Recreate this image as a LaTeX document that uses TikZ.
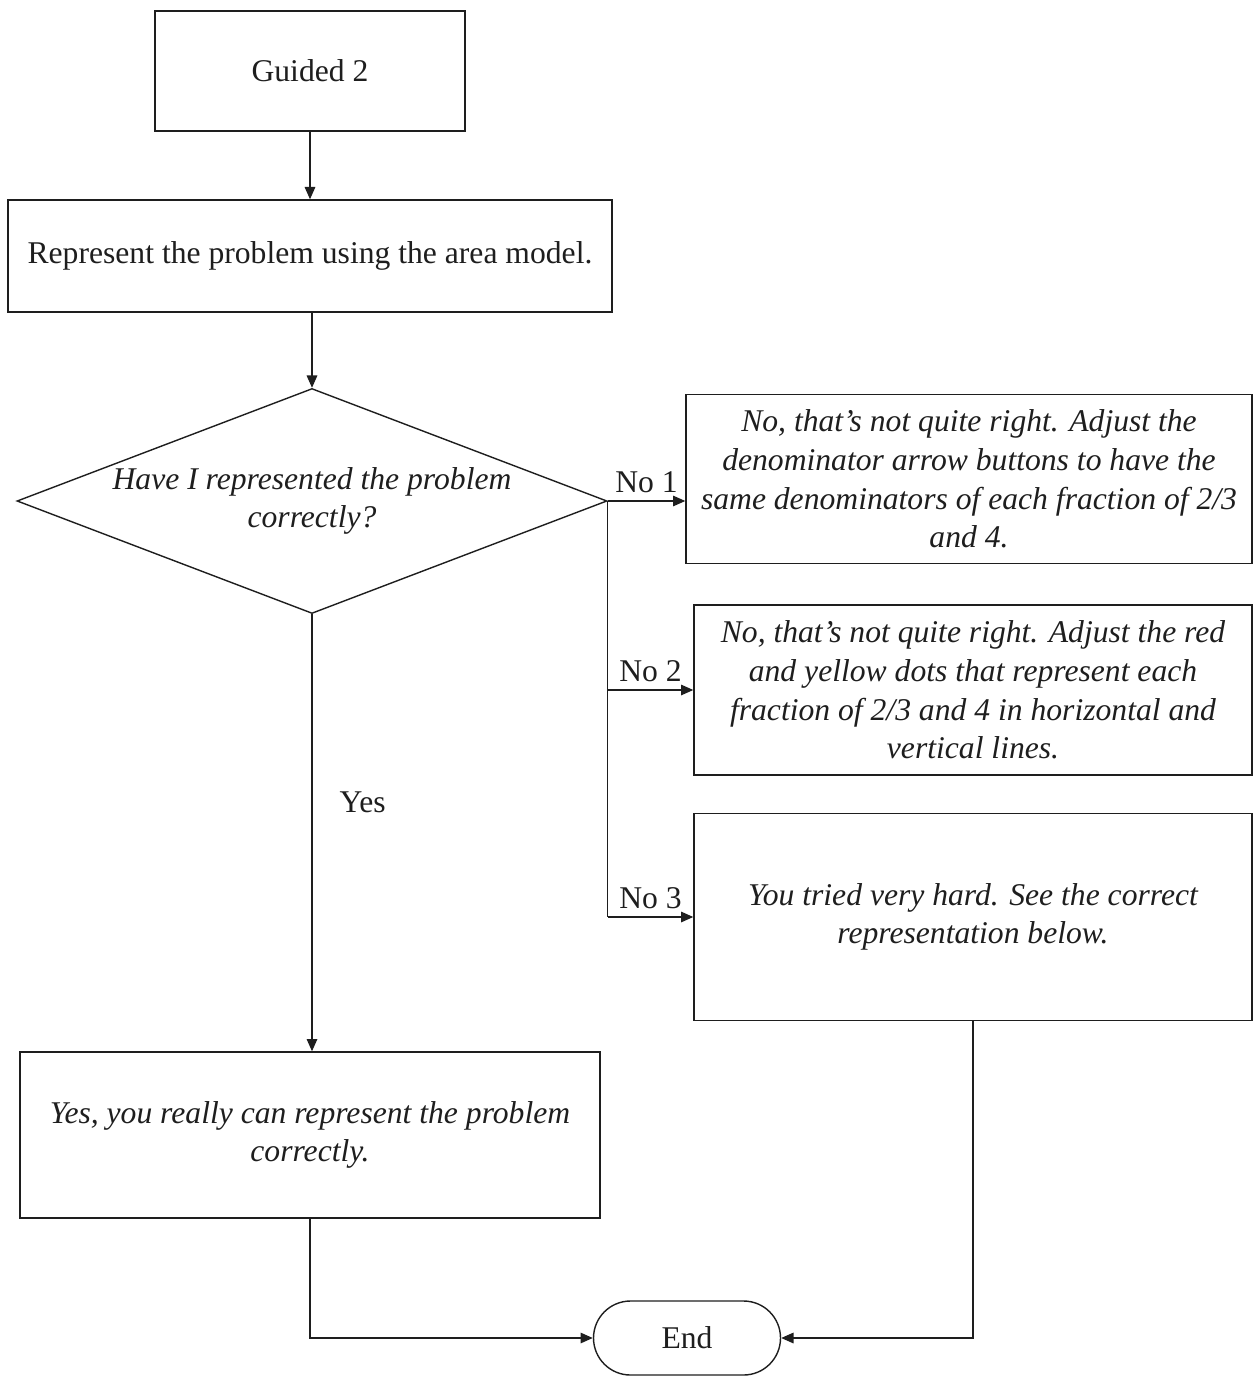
\documentclass[tikz,border=0pt]{standalone}
\usepackage{fontspec}
\setmainfont{Liberation Serif}
\usetikzlibrary{arrows.meta, shapes.geometric, shapes.misc}
\definecolor{ink}{HTML}{1E1E1E}

\begin{document}
\begin{tikzpicture}[
    every node/.style={font=\fontsize{18}{22}\selectfont, text=ink},
    box/.style={draw=ink, line width=0.8pt, rectangle, align=center, inner sep=0pt},
    decision/.style={draw=ink, line width=0.8pt, diamond, aspect=2.62, align=center,
      inner sep=0pt, inner xsep=-0.3cm},
    terminal/.style={draw=ink, line width=0.8pt, rounded rectangle, inner sep=0pt,
      minimum width=3.74cm, minimum height=1.48cm},
    flow/.style={draw=ink, line width=0.8pt, -{Triangle[length=7pt, width=6pt]}},
    lbl/.style={inner sep=4pt}
  ]
    \useasboundingbox (0, 0) rectangle (25.12, -27.52);
    % main column
    \node[box, minimum width=6.20cm, minimum height=2.40cm] (guided) at (6.20, -1.42) {Guided 2};
    \node[box, minimum width=12.08cm, minimum height=2.24cm] (represent) at (6.20, -5.12)
      {Represent the problem using the area model.};
    \node[decision, minimum width=11.80cm, minimum height=4.50cm] (check) at (6.24, -10.02)
      {\itshape Have I represented the problem\\ \itshape correctly?};
    \node[box, minimum width=11.60cm, minimum height=3.32cm] (yes) at (6.20, -22.70)
      {\itshape Yes, you really can represent the problem\\ \itshape correctly.};
    \node[terminal] (end) at (13.74, -26.76) {End};
    % feedback column
    \node[box, minimum width=11.32cm, minimum height=3.38cm] (no1) at (19.38, -9.58)
      {\itshape No, that's not quite right. Adjust the\\
       \itshape denominator arrow buttons to have the\\
       \itshape same denominators of each fraction of 2/3\\
       \itshape and 4.};
    \node[box, minimum width=11.16cm, minimum height=3.40cm] (no2) at (19.46, -13.80)
      {\itshape No, that's not quite right. Adjust the red\\
       \itshape and yellow dots that represent each\\
       \itshape fraction of 2/3 and 4 in horizontal and\\
       \itshape vertical lines.};
    \node[box, minimum width=11.16cm, minimum height=4.14cm] (no3) at (19.46, -18.34)
      {\itshape You tried very hard. See the correct\\
       \itshape representation below.};
    % connectors
    \draw[flow] (guided) -- (represent);
    \draw[flow] (represent.south -| check.north) -- (check.north);
    \draw[flow] (check.south) -- node[lbl, right, pos=0.43, xshift=0.4cm] {Yes} (yes.north -| check.south);
    \coordinate (fork2) at (check.east |- no2.west);
    \coordinate (fork3) at (check.east |- no3.west);
    \draw[draw=ink, line width=0.8pt] (check.east) -- (fork3);
    \draw[flow] (check.east) -- node[lbl, above] {No 1} (check.east -| no1.west);
    \draw[flow] (fork2) -- node[lbl, above] {No 2} (no2.west);
    \draw[flow] (fork3) -- node[lbl, above] {No 3} (no3.west);
    \draw[flow] (yes.south) |- (end.west);
    \draw[flow] (no3.south) |- (end.east);
\end{tikzpicture}
\end{document}
